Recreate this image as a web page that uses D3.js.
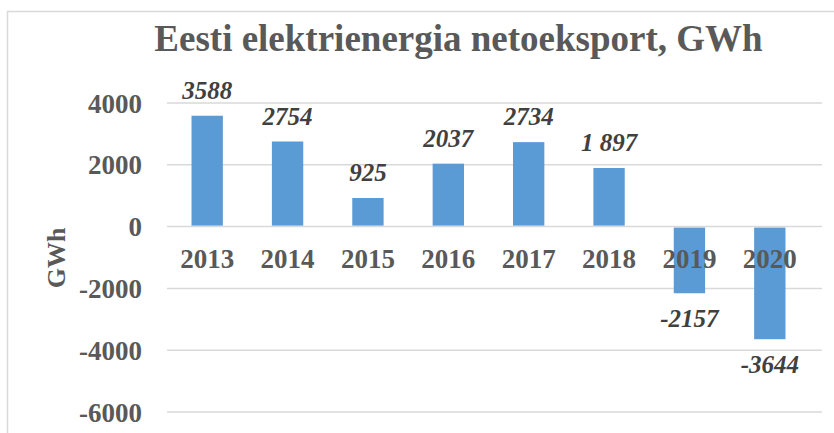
<!DOCTYPE html>
<html>
<head>
<meta charset="utf-8">
<script src="https://cdn.jsdelivr.net/npm/d3@7"></script>
<style>
  body { margin: 0; background: #fff; }
  svg text { font-family: "Liberation Serif", "Times New Roman", serif; }
</style>
</head>
<body>
<div id="chart"></div>
<script>
// data
var years = ['2013', '2014', '2015', '2016', '2017', '2018', '2019', '2020'];
var netExport = [3588, 2754, 925, 2037, 2734, 1897, -2157, -3644];
var valueLabels = ['3588', '2754', '925', '2037', '2734', '1 897', '-2157', '-3644'];
var yTicks = [4000, 2000, 0, -2000, -4000, -6000];

var width = 834, height = 433;
var margin = { top: 103, right: 12, bottom: 21, left: 167 };

var svg = d3.select('#chart').append('svg')
    .attr('width', width)
    .attr('height', height);

// chart frame
svg.append('rect')
    .attr('x', 7.5).attr('y', 11.5)
    .attr('width', 840).attr('height', 440)
    .attr('fill', 'none')
    .attr('stroke', '#d9d9d9')
    .attr('stroke-width', 1.5);

// title
svg.append('text')
    .attr('x', 458.5).attr('y', 51)
    .attr('text-anchor', 'middle')
    .style('font-size', '37px')
    .style('font-weight', 'bold')
    .attr('fill', '#595959')
    .text('Eesti elektrienergia netoeksport, GWh');

var x = d3.scaleBand()
    .domain(years)
    .range([margin.left, width - margin.right - 12])
    .paddingInner(0.61)
    .paddingOuter(0.305);

var y = d3.scaleLinear()
    .domain([-6000, 4000])
    .range([height - margin.bottom, margin.top]);

// gridlines
svg.append('g')
    .selectAll('line')
    .data(yTicks)
    .join('line')
    .attr('x1', margin.left)
    .attr('x2', width - margin.right)
    .attr('y1', function(d) { return y(d); })
    .attr('y2', function(d) { return y(d); })
    .attr('stroke', '#d9d9d9')
    .attr('stroke-width', 1.5);

// y axis labels (plain hyphen for the minus, as in the original)
var yAxis = svg.append('g')
    .attr('transform', 'translate(' + (margin.left - 25) + ',0)')
    .call(d3.axisLeft(y).tickValues(yTicks).tickSize(0).tickPadding(0)
        .tickFormat(function(d) { return String(d); }));
yAxis.select('.domain').remove();
yAxis.selectAll('text')
    .attr('x', 0)
    .style('font-family', '"Liberation Serif", "Times New Roman", serif')
    .style('font-size', '27px')
    .style('font-weight', 'bold')
    .attr('fill', '#595959')
    .attr('dy', '0.34em');

// y axis title
svg.append('text')
    .attr('transform', 'translate(65,258) rotate(-90)')
    .attr('text-anchor', 'middle')
    .style('font-size', '26px')
    .style('font-weight', 'bold')
    .attr('fill', '#595959')
    .text('GWh');

// bars
svg.append('g')
    .selectAll('rect')
    .data(netExport)
    .join('rect')
    .attr('x', function(d, i) { return x(years[i]); })
    .attr('width', x.bandwidth())
    .attr('y', function(d) { return d >= 0 ? y(d) : y(0) + 1; })
    .attr('height', function(d) { return d >= 0 ? y(0) - y(d) - 1 : y(d) - y(0) - 1; })
    .attr('fill', '#5b9bd5');

// category labels sit just under the zero line
svg.append('g')
    .selectAll('text')
    .data(years)
    .join('text')
    .attr('x', function(d) { return x(d) + x.bandwidth() / 2; })
    .attr('y', y(0) + 41)
    .attr('text-anchor', 'middle')
    .style('font-size', '27px')
    .style('font-weight', 'bold')
    .attr('fill', '#595959')
    .text(function(d) { return d; });

// value labels
svg.append('g')
    .selectAll('text')
    .data(netExport)
    .join('text')
    .attr('x', function(d, i) { return x(years[i]) + x.bandwidth() / 2; })
    .attr('y', function(d) { return d >= 0 ? y(d) - 17 : y(d) + 34; })
    .attr('text-anchor', 'middle')
    .style('font-size', '25px')
    .style('font-weight', 'bold')
    .style('font-style', 'italic')
    .attr('fill', '#404040')
    .text(function(d, i) { return valueLabels[i]; });
</script>
</body>
</html>
